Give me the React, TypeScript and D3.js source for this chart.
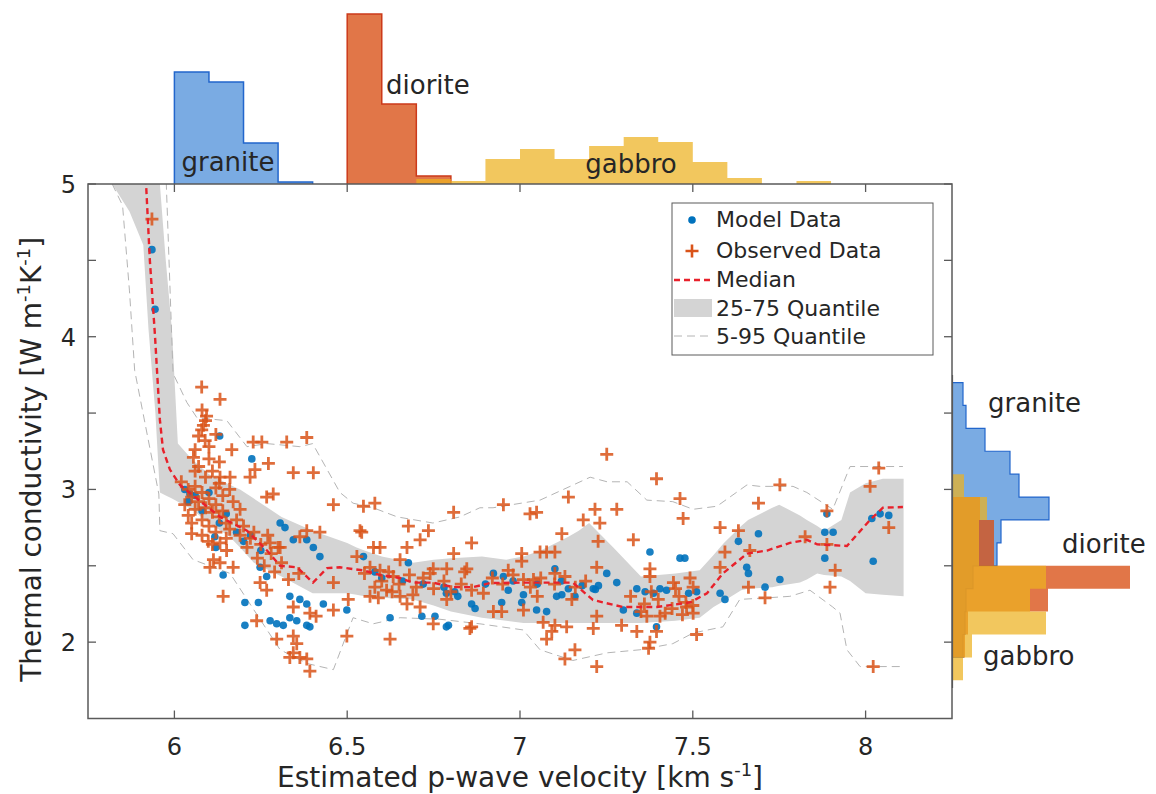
import React from 'react';
import * as d3 from 'd3';

// ---------- axes ----------
const xTickValues = [6, 6.5, 7, 7.5, 8];
const xTickLabels = ['6', '6.5', '7', '7.5', '8'];
const yTickValues = [2, 2.5, 3, 3.5, 4, 4.5, 5];
const yTickLabels = ['2', '', '3', '', '4', '', '5'];

// ---------- top histograms (velocity, bin width 0.1) ----------
const graniteTopEdges = [6.0, 6.1, 6.2, 6.3];
const graniteTopCounts = [112, 102, 41, 2];
const dioriteTopEdges = [6.5, 6.6, 6.7];
const dioriteTopCounts = [170, 80, 8];
const gabbroTopEdges = [6.7, 6.8, 6.9, 7.0, 7.1, 7.2, 7.3, 7.4, 7.5, 7.6, 7.7, 7.8];
const gabbroTopCounts = [5, 3, 25, 35, 25, 38, 47, 42, 22, 6, 0, 3];

// ---------- right histograms (conductivity, bin width 0.15) ----------
const graniteRightEdges = [3.55, 3.4, 3.25, 3.1, 2.95, 2.8, 2.65, 2.5, 2.35, 2.2, 2.05, 1.9];
const graniteRightCounts = [10, 13, 32, 57, 66, 96, 48, 44, 20, 13, 12, 10];
const dioriteRightEdges = [2.8, 2.65, 2.5, 2.35, 2.2, 2.05, 1.9];
const dioriteRightCounts = [27, 41, 41, 177, 95, 15, 12];
const gabbroRightEdges = [2.95, 2.8, 2.65, 2.5, 2.35, 2.2, 2.05, 1.9, 1.75];
const gabbroRightCounts = [11, 34, 26, 26, 93, 77, 93, 19, 10];

// ---------- median ----------
const medianV = [5.915, 5.918, 5.929, 5.944, 5.958, 5.967, 5.987, 6.016, 6.045, 6.132, 6.21, 6.268, 6.306, 6.355, 6.401, 6.442, 6.479, 6.546, 6.595, 6.653, 6.69, 6.748, 6.806, 6.864, 6.913, 7.009, 7.153, 7.211, 7.298, 7.396, 7.492, 7.541, 7.587, 7.657, 7.715, 7.781, 7.83, 7.86, 7.946, 8.013, 8.05, 8.108];
const medianK = [5.3, 5.0, 4.5, 4.0, 3.455, 3.26, 3.13, 3.03, 2.976, 2.82, 2.73, 2.6, 2.5, 2.49, 2.39, 2.485, 2.49, 2.47, 2.44, 2.42, 2.39, 2.39, 2.36, 2.36, 2.387, 2.39, 2.39, 2.276, 2.23, 2.23, 2.26, 2.32, 2.45, 2.58, 2.6, 2.65, 2.67, 2.64, 2.63, 2.8, 2.88, 2.885];

// ---------- 25-75 quantile band ----------
const bandV = [5.82, 5.87, 5.91, 5.925, 5.945, 5.958, 5.975, 5.993, 6.01, 6.05, 6.1, 6.16, 6.19, 6.23, 6.31, 6.4, 6.5, 6.527, 6.55, 6.6, 6.69, 6.75, 6.8, 6.89, 6.96, 7.01, 7.06, 7.14, 7.17, 7.2, 7.27, 7.35, 7.45, 7.52, 7.56, 7.59, 7.64, 7.66, 7.73, 7.75, 7.81, 7.83, 7.86, 7.88, 7.93, 7.955, 8.0, 8.05, 8.11];
const q25 = [5.0, 4.82, 4.6, 4.05, 3.5, 2.98, 2.96, 2.94, 2.92, 2.87, 2.78, 2.69, 2.62, 2.52, 2.43, 2.32, 2.32, 2.31, 2.3, 2.29, 2.28, 2.24, 2.2, 2.16, 2.14, 2.125, 2.125, 2.125, 2.125, 2.125, 2.125, 2.125, 2.14, 2.16, 2.23, 2.27, 2.34, 2.35, 2.36, 2.37, 2.39, 2.41, 2.45, 2.44, 2.43, 2.4, 2.32, 2.31, 2.3];
const q75 = [5.3, 5.3, 5.3, 5.3, 5.3, 5.0, 4.5, 4.04, 3.3, 3.2, 3.1, 3.03, 3.0, 2.94, 2.82, 2.73, 2.65, 2.62, 2.6, 2.56, 2.52, 2.54, 2.55, 2.56, 2.54, 2.56, 2.6, 2.69, 2.73, 2.78, 2.62, 2.43, 2.45, 2.47, 2.57, 2.65, 2.76, 2.8, 2.88, 2.9, 2.83, 2.8, 2.76, 2.73, 2.8, 2.98, 3.04, 3.07, 3.07];

// ---------- 5-95 quantile lines ----------
const q95V = [5.975, 5.996, 6.036, 6.065, 6.152, 6.21, 6.268, 6.363, 6.4, 6.479, 6.517, 6.575, 6.645, 6.748, 6.826, 6.884, 6.922, 7.058, 7.203, 7.252, 7.31, 7.367, 7.442, 7.501, 7.57, 7.657, 7.694, 7.79, 7.83, 7.905, 7.955, 8.004, 8.108];
const q95K = [5.1, 3.76, 3.57, 3.47, 3.45, 3.28, 3.3, 3.28, 3.3, 2.98, 2.91, 2.88, 2.82, 2.78, 2.82, 2.88, 2.88, 2.93, 3.08, 3.05, 3.05, 2.93, 2.92, 2.87, 2.89, 3.03, 3.02, 3.02, 2.98, 2.87, 3.15, 3.15, 3.15];
const q05V = [5.82, 5.85, 5.87, 5.885, 5.955, 5.958, 5.996, 6.054, 6.161, 6.268, 6.306, 6.384, 6.46, 6.47, 6.517, 6.575, 6.653, 6.768, 6.884, 7.009, 7.058, 7.153, 7.252, 7.347, 7.442, 7.501, 7.587, 7.636, 7.714, 7.781, 7.839, 7.905, 7.926, 7.946, 7.984, 8.108];
const q05K = [5.0, 4.86, 4.3, 3.78, 2.97, 2.73, 2.71, 2.54, 2.45, 2.08, 1.95, 1.86, 1.82, 1.88, 2.16, 2.12, 2.16, 2.15, 2.12, 2.08, 1.95, 1.88, 1.93, 1.95, 1.99, 2.06, 2.1, 2.28, 2.29, 2.3, 2.34, 2.23, 2.19, 1.95, 1.84, 1.84];

// ---------- observed data (velocity, conductivity) ----------
const observedData: [number, number][] = [
  [5.935, 4.77], [6.079, 3.67], [6.132, 3.59], [6.093, 3.48], [6.084, 3.42], [6.079, 3.39], [6.089, 3.32], [6.06, 3.26], [6.055, 3.21],
  [6.166, 3.26], [6.228, 3.31], [6.253, 3.31], [6.325, 3.31], [6.383, 3.34], [6.272, 3.17], [6.233, 3.13], [6.344, 3.11], [6.402, 3.11],
  [6.219, 3.08], [6.161, 3.08], [6.132, 3.08], [6.286, 2.97], [6.267, 2.95], [6.46, 2.9], [6.547, 2.89], [6.58, 2.91], [6.537, 2.73],
  [6.05, 2.71], [6.098, 2.66], [6.132, 2.65], [6.151, 2.6], [6.383, 2.73], [6.421, 2.72], [6.363, 2.69], [6.277, 2.65], [6.306, 2.62],
  [6.113, 2.54], [6.132, 2.52], [6.17, 2.49], [6.103, 2.49], [6.141, 2.3], [6.248, 2.39], [6.267, 2.34], [6.344, 2.23], [6.392, 2.19],
  [6.41, 2.17], [6.296, 2.02], [6.238, 2.14], [6.344, 2.04], [6.354, 1.99], [6.344, 1.93], [6.334, 1.9], [6.363, 1.9], [6.383, 1.89],
  [6.392, 1.81], [6.499, 2.04], [6.624, 2.02], [6.503, 2.28], [6.46, 2.21], [6.566, 2.3], [6.46, 2.39], [6.576, 2.62], [6.595, 2.62],
  [6.542, 2.72], [6.677, 2.76], [6.735, 2.73], [6.711, 2.67], [6.673, 2.62], [6.808, 2.85], [6.86, 2.65], [6.808, 2.58], [6.653, 2.54],
  [6.749, 2.48], [6.788, 2.48], [6.846, 2.48], [6.528, 2.56], [6.566, 2.49], [6.595, 2.47], [6.633, 2.43], [6.59, 2.29], [6.614, 2.34],
  [6.653, 2.3], [6.673, 2.25], [6.749, 2.12], [6.788, 2.28], [6.855, 2.09], [6.711, 2.23],
  [7.251, 3.23], [7.395, 3.07], [7.14, 2.95], [7.463, 2.94], [7.472, 2.81], [6.952, 2.9], [7.029, 2.84], [7.048, 2.85], [7.217, 2.87],
  [7.28, 2.87], [7.183, 2.8], [7.231, 2.78], [7.121, 2.71], [7.328, 2.67], [7.226, 2.66], [7.058, 2.59], [7.077, 2.59], [7.101, 2.59],
  [7.005, 2.58], [7.005, 2.53], [6.966, 2.47], [6.84, 2.46], [7.222, 2.49], [7.376, 2.48], [7.376, 2.43], [7.101, 2.45], [7.01, 2.41],
  [7.039, 2.41], [6.894, 2.32], [6.923, 2.2], [6.947, 2.2], [7.01, 2.21], [7.222, 2.17], [7.294, 2.11], [7.338, 2.07], [6.86, 2.1],
  [7.067, 2.13], [7.101, 2.11], [7.135, 2.1], [7.092, 2.07], [7.077, 2.02], [7.212, 2.09], [7.395, 2.07], [7.376, 2.0], [7.372, 1.96],
  [7.159, 1.95], [7.13, 1.89], [7.222, 1.84], [7.511, 2.05], [7.444, 2.39], [7.492, 2.42], [7.501, 2.36], [7.482, 2.23], [7.501, 2.19],
  [7.367, 2.17], [7.405, 2.17], [7.579, 2.75], [7.632, 2.73], [7.69, 2.91], [7.752, 3.03], [7.665, 2.6], [7.593, 2.59], [7.579, 2.49],
  [7.661, 2.36], [7.709, 2.29], [7.825, 2.69], [7.888, 2.86], [7.888, 2.64], [7.912, 2.47], [7.897, 2.36], [8.013, 3.02], [8.038, 3.14],
  [8.067, 2.75], [8.022, 1.84],
  [6.02, 3.05], [6.04, 3.0], [6.05, 2.95], [6.06, 3.02], [6.07, 2.92], [6.08, 2.98], [6.09, 2.88], [6.1, 2.94], [6.11, 2.85], [6.12, 2.9],
  [6.06, 2.87], [6.04, 2.83], [6.08, 2.8], [6.13, 2.82], [6.15, 2.78], [6.14, 2.86], [6.16, 2.74], [6.18, 2.8], [6.19, 2.7], [6.2, 2.76],
  [6.22, 2.68], [6.23, 2.72], [6.25, 2.64], [6.27, 2.7], [6.28, 2.58], [6.3, 2.62], [6.12, 2.72], [6.1, 2.76], [6.09, 3.08], [6.11, 3.12],
  [6.07, 3.15], [6.1, 3.2], [6.12, 3.01], [6.14, 2.96], [6.17, 2.92], [6.21, 2.62], [6.24, 2.55], [6.26, 2.5], [6.15, 2.68], [6.05, 2.78],
  [6.03, 2.9], [6.13, 3.04], [6.16, 3.0], [6.19, 2.87], [6.08, 2.7], [6.11, 2.64], [6.29, 2.46], [6.31, 2.52], [6.33, 2.41], [6.36, 2.45],
  [6.07, 3.35], [6.1, 3.28], [6.09, 3.45], [6.12, 3.36], [6.08, 3.52], [6.13, 3.18], [6.06, 3.12],
  [6.55, 2.45], [6.6, 2.4], [6.62, 2.46], [6.65, 2.38], [6.68, 2.44], [6.7, 2.36], [6.72, 2.42], [6.75, 2.35], [6.78, 2.4], [6.8, 2.33],
  [6.83, 2.38], [6.86, 2.34], [6.63, 2.33], [6.69, 2.31], [6.58, 2.36], [6.74, 2.45],
  [7.32, 2.3], [7.36, 2.25], [7.4, 2.28], [7.44, 2.22], [7.46, 2.3], [7.48, 2.26], [7.42, 2.19], [7.38, 2.33], [7.35, 2.2], [7.47, 2.18],
  [7.5, 2.24], [7.45, 2.35],
  [6.92, 2.42], [6.95, 2.38], [6.98, 2.44], [7.03, 2.36], [7.06, 2.42], [7.1, 2.38], [7.13, 2.43], [7.16, 2.36], [7.19, 2.4], [7.05, 2.3],
  [7.15, 2.28],
];

// ---------- model data (velocity, conductivity) ----------
const modelData: [number, number][] = [
  [6.131, 3.35], [6.224, 3.2], [6.306, 2.78], [6.32, 2.75], [6.344, 2.67], [6.383, 2.67], [6.402, 2.62], [6.421, 2.56], [6.248, 2.49],
  [6.267, 2.43], [6.204, 2.26], [6.243, 2.26], [6.204, 2.11], [6.277, 2.14], [6.296, 2.12], [6.315, 2.11], [6.334, 2.16], [6.354, 2.14],
  [6.383, 2.11], [6.392, 2.1], [6.334, 2.3], [6.363, 2.28], [6.383, 2.25], [6.431, 2.25], [6.499, 2.21], [6.677, 2.52], [6.624, 2.16],
  [6.716, 2.17], [6.754, 2.17], [6.793, 2.11], [6.117, 2.69], [6.141, 2.44], [6.045, 2.97], [6.547, 2.56],
  [7.376, 2.59], [7.463, 2.55], [7.477, 2.55], [7.251, 2.45], [7.227, 2.37], [7.218, 2.345], [7.28, 2.39], [6.923, 2.45], [6.952, 2.43],
  [7.101, 2.48], [6.787, 2.32], [6.811, 2.33], [6.86, 2.25], [6.87, 2.22], [6.947, 2.26], [6.966, 2.34], [7.01, 2.31], [7.005, 2.26],
  [7.048, 2.21], [7.077, 2.2], [7.106, 2.3], [7.121, 2.31], [7.14, 2.35], [7.159, 2.3], [7.212, 2.35], [7.338, 2.35], [7.362, 2.33],
  [7.386, 2.32], [7.405, 2.35], [7.424, 2.34], [7.299, 2.21], [7.338, 2.19], [6.787, 2.1], [7.488, 2.32], [7.511, 2.33], [7.579, 2.32],
  [7.593, 2.28], [7.632, 2.66], [7.69, 2.71], [7.656, 2.49], [7.661, 2.45], [7.709, 2.36], [7.752, 2.41], [7.882, 2.72], [7.906, 2.72],
  [7.888, 2.84], [7.882, 2.55], [8.022, 2.53], [8.018, 2.81], [8.042, 2.84], [8.067, 2.83], [7.395, 2.1],
  [5.935, 4.57], [5.944, 4.18],
  [6.04, 2.92], [6.08, 2.86], [6.1, 2.98], [6.13, 2.78], [6.06, 2.96], [6.18, 2.72], [6.2, 2.66], [6.22, 2.7], [6.15, 2.84], [6.12, 2.62],
  [6.25, 2.6], [6.03, 3.0],
  [6.6, 2.42], [6.66, 2.4], [6.72, 2.38], [6.78, 2.36], [6.82, 2.3], [6.58, 2.46],
  [6.9, 2.38], [6.98, 2.4], [7.05, 2.38], [7.12, 2.4], [7.18, 2.37],
];

const FONT = '"DejaVu Sans", Verdana, sans-serif';
const TXT = '#262626';

function topPath(edges: number[], counts: number[], w: number, x: any, h: any, closed: boolean) {
  let d = `M${x(edges[0])},${h(0)}`;
  edges.forEach((e, i) => {
    d += `V${h(counts[i])}H${x(e + w)}`;
  });
  d += `V${h(0)}`;
  if (closed) d += 'Z';
  return d;
}

function rightPath(edges: number[], counts: number[], w: number, y: any, r: any, closed: boolean) {
  // edges listed from top (high) to bottom (low); bin = [e, e+w]
  let d = `M${r(0)},${y(edges[0] + w)}`;
  edges.forEach((e, i) => {
    d += `H${r(counts[i])}V${y(e)}`;
  });
  d += `H${r(0)}`;
  if (closed) d += 'Z';
  return d;
}

export default function App() {
  const W = 1156, H = 794;
  const L = 88, R = 952, T = 184, B = 718.5;
  const x = d3.scaleLinear().domain([5.75, 8.25]).range([L, R]);
  const y = d3.scaleLinear().domain([1.5, 5]).range([B, T]);
  const topH = d3.scaleLinear().domain([0, 170]).range([T, 14]);
  const rightW = d3.scaleLinear().domain([0, 177]).range([R + 1, R + 178]);

  const bandArea = d3.area<number>()
    .x((_, i) => x(bandV[i]))
    .y0((_, i) => y(q25[i]))
    .y1((_, i) => y(q75[i]))(bandV);
  const medLine = d3.line<number>().x((v) => x(v)).y((_, i) => y(medianK[i]))(medianV);
  const q95Line = d3.line<number>().x((v) => x(v)).y((_, i) => y(q95K[i]))(q95V);
  const q05Line = d3.line<number>().x((v) => x(v)).y((_, i) => y(q05K[i]))(q05V);

  const blue = '#0072BD';
  const orange = '#D95319';
  const graniteBase = 'rgb(40,120,210)';
  const dioriteBase = 'rgb(217,80,20)';
  const gabbroBase = 'rgb(237,177,32)';

  const plus = 'M-6.5,0H6.5M0,-6.5V6.5';
  const tickLen = 8;

  return (
    <svg width={W} height={H} style={{ position: 'absolute', left: 0, top: 0, background: '#fff' }} fontFamily={FONT}>
      <defs>
        <clipPath id="plotClip">
          <rect x={L} y={T} width={R - L} height={B - T} />
        </clipPath>
      </defs>
      <rect x={0} y={0} width={W} height={H} fill="#fff" />

      {/* top histograms */}
      <g>
        <path d={topPath(graniteTopEdges, graniteTopCounts, 0.1, x, topH, true)} fill={graniteBase} fillOpacity={0.62} />
        <path d={topPath(graniteTopEdges, graniteTopCounts, 0.1, x, topH, false)} fill="none" stroke="#2266cc" strokeWidth={1.5} />
        <path d={topPath(dioriteTopEdges, dioriteTopCounts, 0.1, x, topH, true)} fill={dioriteBase} fillOpacity={0.78} />
        <path d={topPath(dioriteTopEdges, dioriteTopCounts, 0.1, x, topH, false)} fill="none" stroke="#cc3a1a" strokeWidth={1.5} />
        <path d={topPath(gabbroTopEdges, gabbroTopCounts, 0.1, x, topH, true)} fill={gabbroBase} fillOpacity={0.72} />
        <text x={228} y={171} fontSize={26} fill={TXT} textAnchor="middle">granite</text>
        <text x={386} y={94} fontSize={26} fill={TXT}>diorite</text>
        <text x={631} y={173} fontSize={26} fill={TXT} textAnchor="middle">gabbro</text>
      </g>

      {/* right histograms */}
      <g>
        <path d={rightPath(graniteRightEdges, graniteRightCounts, 0.15, y, rightW, true)} fill={graniteBase} fillOpacity={0.62} />
        <path d={rightPath(graniteRightEdges, graniteRightCounts, 0.15, y, rightW, false)} fill="none" stroke="#2266cc" strokeWidth={1.2} />
        <path d={rightPath(dioriteRightEdges, dioriteRightCounts, 0.15, y, rightW, true)} fill={dioriteBase} fillOpacity={0.78} />
        <path d={rightPath(gabbroRightEdges, gabbroRightCounts, 0.15, y, rightW, true)} fill={gabbroBase} fillOpacity={0.72} />
        <line x1={R + 0.5} x2={R + 0.5} y1={y(3.75)} y2={y(1.7)} stroke="#555" strokeWidth={1.2} />
        <text x={988} y={412} fontSize={26} fill={TXT}>granite</text>
        <text x={1062} y={553} fontSize={26} fill={TXT}>diorite</text>
        <text x={983} y={665} fontSize={26} fill={TXT}>gabbro</text>
      </g>

      {/* plot contents */}
      <g clipPath="url(#plotClip)">
        <path d={bandArea || ''} fill="#d4d4d4" />
        <path d={q95Line || ''} fill="none" stroke="#b4b4b4" strokeWidth={1} strokeDasharray="8,5" />
        <path d={q05Line || ''} fill="none" stroke="#b4b4b4" strokeWidth={1} strokeDasharray="8,5" />
        {modelData.map((p, i) => (
          <circle key={'m' + i} cx={x(p[0])} cy={y(p[1])} r={3.8} fill={blue} fillOpacity={0.9} />
        ))}
        {observedData.map((p, i) => (
          <path key={'o' + i} d={plus} transform={`translate(${x(p[0])},${y(p[1])})`} stroke={orange} strokeWidth={2.8} strokeOpacity={0.85} fill="none" />
        ))}
        <path d={medLine || ''} fill="none" stroke="#e8212b" strokeWidth={2.4} strokeDasharray="6,4" />
      </g>

      {/* axes box */}
      <rect x={L} y={T} width={R - L} height={B - T} fill="none" stroke="#5a5a5a" strokeWidth={1.5} />
      {xTickValues.map((v, i) => (
        <g key={'xt' + i}>
          <line x1={x(v)} x2={x(v)} y1={B} y2={B - tickLen} stroke="#5a5a5a" strokeWidth={1.3} />
          <line x1={x(v)} x2={x(v)} y1={T} y2={T + tickLen} stroke="#5a5a5a" strokeWidth={1.3} />
          <text x={x(v)} y={B + 36} fontSize={24} fill={TXT} textAnchor="middle">{xTickLabels[i]}</text>
        </g>
      ))}
      {yTickValues.map((v, i) => (
        <g key={'yt' + i}>
          <line x1={L} x2={L + tickLen} y1={y(v)} y2={y(v)} stroke="#5a5a5a" strokeWidth={1.3} />
          <line x1={R} x2={R - tickLen} y1={y(v)} y2={y(v)} stroke="#5a5a5a" strokeWidth={1.3} />
          {yTickLabels[i] && (
            <text x={L - 12} y={y(v) + 9} fontSize={24} fill={TXT} textAnchor="end">{yTickLabels[i]}</text>
          )}
        </g>
      ))}
      <text x={(L + R) / 2} y={787} fontSize={28} fill={TXT} textAnchor="middle">
        Estimated p-wave velocity [km s<tspan dy={-11} fontSize={18}>-1</tspan><tspan dy={11}>]</tspan>
      </text>
      <text transform={`translate(41,${(T + B) / 2 + 8}) rotate(-90)`} fontSize={28} fill={TXT} textAnchor="middle">
        Thermal conductivity [W m<tspan dy={-11} fontSize={18}>-1</tspan><tspan dy={11}>K</tspan><tspan dy={-11} fontSize={18}>-1</tspan><tspan dy={11}>]</tspan>
      </text>

      {/* legend */}
      <g>
        <rect x={672} y={203} width={261} height={152} fill="#fff" stroke="#5a5a5a" strokeWidth={1} />
        <circle cx={692} cy={220} r={3.8} fill={blue} />
        <path d={plus} transform="translate(692,251)" stroke={orange} strokeWidth={2.6} fill="none" />
        <line x1={674} x2={712} y1={280} y2={280} stroke="#e8212b" strokeWidth={2.4} strokeDasharray="6,4" />
        <rect x={674} y={299} width={38} height={18} fill="#d4d4d4" />
        <line x1={674} x2={712} y1={336} y2={336} stroke="#b4b4b4" strokeWidth={1} strokeDasharray="8,5" />
        <text x={716} y={227} fontSize={22} fill={TXT}>Model Data</text>
        <text x={716} y={258} fontSize={22} fill={TXT}>Observed Data</text>
        <text x={716} y={287} fontSize={22} fill={TXT}>Median</text>
        <text x={716} y={316} fontSize={22} fill={TXT}>25-75 Quantile</text>
        <text x={716} y={344} fontSize={22} fill={TXT}>5-95 Quantile</text>
      </g>
    </svg>
  );
}
